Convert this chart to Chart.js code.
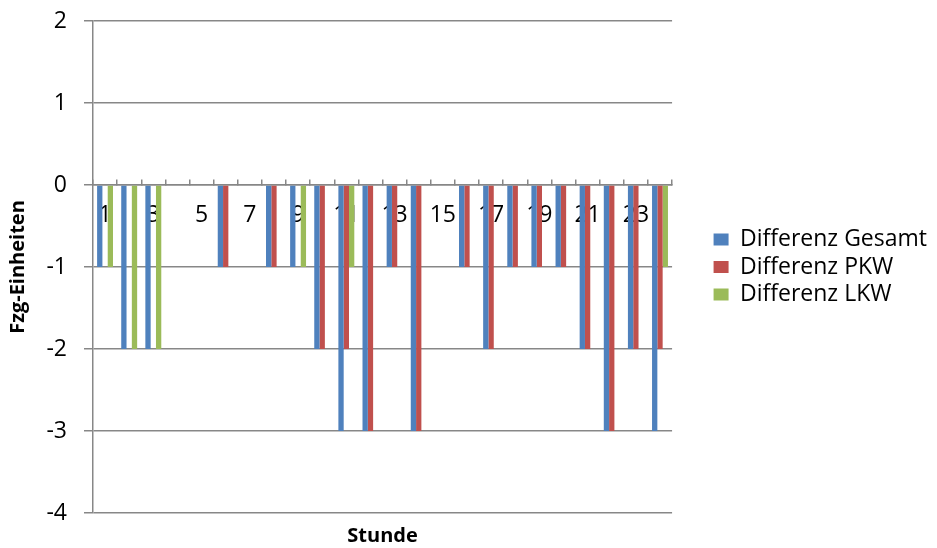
<!DOCTYPE html>
<html>
<head>
<meta charset="utf-8">
<script src="https://cdn.jsdelivr.net/npm/chart.js@4.4.1/dist/chart.umd.min.js"></script>
<style>
  body { margin: 0; background: #fff; }
  #wrap { width: 937px; height: 548px; position: relative; }
</style>
</head>
<body>
<div id="wrap"><canvas id="chart"></canvas></div>
<script>
/* --------------- Data --------------- */

const hours = ["1","2","3","4","5","6","7","8","9","10","11","12",
               "13","14","15","16","17","18","19","20","21","22","23","24"];

const diffGesamt = [-1,-2,-2,0,0,-1,0,-1,-1,-2,-3,-3,-1,-3,0,-1,-2,-1,-1,-1,-2,-3,-2,-3];
const diffPKW    = [0,0,0,0,0,-1,0,-1,0,-2,-2,-3,-1,-3,0,-1,-2,-1,-1,-1,-2,-3,-2,-2];
const diffLKW    = [-1,-2,-2,0,0,0,0,0,-1,0,-1,0,0,0,0,0,0,0,0,0,0,0,0,-1];

const yTicks = { min: -4, max: 2, step: 1 };

/* --------------- Style --------------- */

const FONT = "'Open Sans', sans-serif";
const GRID = "#878787";

Chart.defaults.font.family = FONT;
Chart.defaults.color = "#000";

/* --------------- Chart --------------- */

const ctx = document.getElementById("chart");

let diffChart = new Chart(ctx, {
  type: "bar",
  data: {
    labels: hours,
    datasets: [
      { label: "Differenz Gesamt", data: diffGesamt, backgroundColor: "#4F81BD" },
      { label: "Differenz PKW", data: diffPKW, backgroundColor: "#C0504D" },
      { label: "Differenz LKW", data: diffLKW, backgroundColor: "#9BBB59" },
    ],
  },
  options: {
    responsive: true,
    maintainAspectRatio: false,
    animation: false,
    layout: { padding: { top: 21, left: 0, right: 0, bottom: 0 } },
    datasets: {
      bar: { categoryPercentage: 0.66, barPercentage: 1, borderWidth: 0 },
    },
    plugins: {
      tooltip: { enabled: false },
      legend: {
        position: "right",
        fullSize: false,
        maxWidth: 300,
        labels: {
          boxWidth: 15,
          boxHeight: 12,
          padding: 4.5,
          font: { size: 23 },
        },
      },
    },
    scales: {
      x: {
        position: "bottom",
        grid: { display: false },
        border: { display: false },
        ticks: { display: false },
        title: {
          display: true,
          text: "Stunde",
          font: { size: 20, weight: "bold" },
          padding: { top: 0, bottom: 0 },
        },
        afterFit: (scale) => { scale.height = 35; },
      },
      x0: {
        type: "category",
        position: { y: 0 },
        offset: true,
        grid: {
          offset: true,
          drawOnChartArea: false,
          tickLength: -6,
          color: GRID,
          lineWidth: 1.5,
        },
        border: { color: GRID, width: 1.5 },
        ticks: {
          autoSkip: false,
          maxRotation: 0,
          padding: 23,
          font: { size: 23 },
          callback: function (value, index) {
            return index % 2 === 0 ? this.getLabelForValue(value) : "";
          },
        },
      },
      y: {
        min: yTicks.min,
        max: yTicks.max,
        ticks: { stepSize: yTicks.step, padding: 17, font: { size: 23 } },
        grid: { color: GRID, lineWidth: 1.5, tickLength: 9 },
        border: { color: GRID, width: 1.5 },
        title: {
          display: true,
          text: "Fzg-Einheiten",
          font: { size: 20, weight: "bold" },
          padding: { top: 6, bottom: 0 },
        },
        afterFit: (scale) => {
          scale.width = 93;
          scale.paddingTop = 0;
          scale.paddingBottom = 0;
        },
      },
      yR: {
        type: "linear",
        position: "right",
        grid: { display: false },
        border: { display: false },
        ticks: { display: false },
        afterFit: (scale) => { scale.width = 37; },
      },
    },
  },
});
</script>
</body>
</html>
